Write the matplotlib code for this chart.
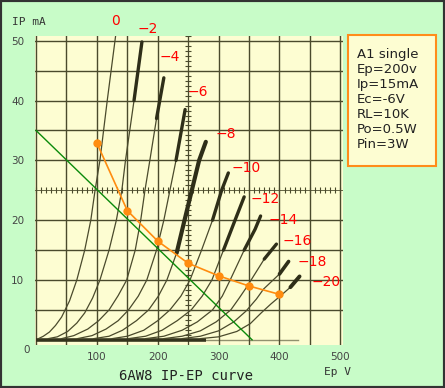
import matplotlib.pyplot as plt
import numpy as np

# plate curves of 6AW8, (Ep V, Ip mA), one list per grid voltage
grid_volts = [0, -2, -4, -6, -8, -10, -12, -14, -16, -18, -20]
curve_ep = [
    [4, 12, 22, 32, 42, 55, 67, 80, 90, 97, 105, 117, 131],
    [20, 35, 52, 67, 80, 93, 105, 120, 132, 141, 147, 161, 174],
    [42, 62, 85, 103, 120, 135, 149, 163, 172, 179, 187, 198, 210],
    [68, 92, 115, 135, 152, 168, 182, 198, 210, 220, 230, 245],
    [95, 120, 142, 165, 185, 201, 215, 231, 244, 256, 268, 279],
    [125, 150, 177, 200, 220, 238, 253, 272, 290, 305, 316],
    [152, 180, 207, 232, 255, 273, 289, 308, 327, 342],
    [180, 210, 240, 265, 290, 306, 319, 342, 360, 369],
    [210, 240, 270, 296, 320, 334, 346, 375, 395],
    [240, 270, 300, 325, 345, 362, 374, 400, 415],
    [270, 300, 330, 352, 370, 386, 400, 418, 433],
]
curve_ip = [
    [0.2, 0.6, 1.3, 2.4, 3.8, 6.5, 10, 15, 20, 25, 30, 40, 51],
    [0.2, 0.5, 1.4, 2.8, 4.5, 7, 10, 15, 20, 25, 30, 40, 49.8],
    [0.2, 0.7, 1.8, 3.2, 5, 7.4, 10, 15, 20, 25, 30, 37, 43.8],
    [0.2, 0.7, 1.8, 3.2, 5, 7.3, 10, 15, 20, 25, 30, 38.5],
    [0.2, 0.6, 1.6, 3.2, 5, 7.3, 10, 14.5, 20, 25, 30, 33.1],
    [0.2, 0.6, 1.6, 3.2, 5, 7.3, 10, 15, 20, 25, 27.9],
    [0.2, 0.6, 1.6, 3.2, 5, 7.3, 10, 15, 20, 23.9],
    [0.2, 0.6, 1.6, 3.0, 5, 7.3, 10, 15, 18.5, 20.7],
    [0.2, 0.6, 1.5, 3.0, 5, 7.0, 8.8, 13.5, 16],
    [0.2, 0.6, 1.5, 3.0, 4.8, 6.8, 8.5, 11, 13.1],
    [0.2, 0.5, 1.4, 2.7, 4.5, 6.0, 7.2, 8.8, 10.6],
]
# current above which the scan shows a heavy stroke, and its width
thick_from = [99, 40, 36, 30, 14, 20, 15, 15, 13, 11, 8.8]
thick_lw = [1, 2.4, 2.4, 2.4, 3.0, 2.4, 2.4, 2.4, 2.4, 2.6, 2.8]

label_x = [131, 183, 220, 266, 311, 345, 377, 406, 429, 454, 477]
label_y = [53.3, 52.0, 47.3, 41.5, 34.4, 28.7, 23.5, 20.0, 16.5, 13.0, 9.7]

# operating points and load line
op_ep = [100, 150, 200, 250, 300, 350, 400]
op_ip = [32.9, 21.6, 16.5, 12.8, 10.7, 9.0, 7.6]
load_ep = [0, 355]
load_ip = [35, 0]

info = "A1 single\nEp=200v\nIp=15mA\nEc=-6V\nRL=10K\nPo=0.5W\nPin=3W"

bg = "#c8fcc8"
paper = "#fdfdd2"
ink = "#4a4a2c"

fig = plt.figure(figsize=(4.45, 3.88), dpi=100, facecolor=bg)
ax = fig.add_axes([0.0796, 0.1103, 0.692, 0.797])
ax.set_facecolor(paper)
ax.set_xlim(-1, 505)
ax.set_ylim(-0.9, 50.8)
for s in ax.spines.values():
    s.set_visible(False)

# graph paper grid
for v in range(0, 501, 50):
    if v != 250:
        ax.axvline(v, color=ink, lw=1.0, zorder=1)
for i in range(5, 51, 5):
    if i != 25:
        ax.axhline(i, color=ink, lw=1.0, zorder=1)
ax.axvline(250, color=ink, lw=0.9, zorder=1)
ax.axhline(25, color=ink, lw=0.6, zorder=1)
tx = np.arange(0, 505, 50 / 6)
ax.plot(tx, np.full_like(tx, 25), ls="none", marker="|", ms=5, mew=0.8, color=ink, zorder=1)
ty = np.arange(0, 51, 5 / 6)
ax.plot(np.full_like(ty, 250), ty, ls="none", marker="_", ms=5, mew=0.8, color=ink, zorder=1)

# zero current baseline
ax.plot([0, 280], [0, 0], color="#33331c", lw=2.6, solid_capstyle="butt", zorder=2)
ax.plot([280, 430], [0, 0], color=ink, lw=1.0, alpha=0.6, zorder=2)

for k in range(len(grid_volts)):
    ep = np.array(curve_ep[k])
    ip = np.array(curve_ip[k])
    ax.plot(ep, ip, color=ink, lw=0.9, zorder=3)
    m = ip >= thick_from[k]
    if m.sum() > 1:
        ax.plot(ep[m], ip[m], color="#2e2e18", lw=thick_lw[k], solid_capstyle="round", zorder=3)
    ax.text(label_x[k], label_y[k], str(grid_volts[k]).replace("-", "\u2212"), color="red",
            fontsize=10, ha="center", va="center", clip_on=False)

ax.plot(load_ep, load_ip, color="#0a8a0a", lw=1.0, zorder=4)
ax.plot(op_ep, op_ip, color="#ff8c10", lw=1.2, marker="o", ms=5, zorder=5)

ax.set_xticks([100, 200, 300, 400, 500])
ax.set_yticks([10, 20, 30, 40, 50])
ax.tick_params(length=0, labelsize=7.5, labelcolor="#444444")
ax.tick_params(axis="x", pad=5)
ax.tick_params(axis="y", pad=8)
fig.text(30 / 445, 1 - 350 / 388, "0", fontsize=7.5, color="#444444", ha="right", va="center")

mono = "DejaVu Sans Mono"
fig.text(29 / 445, 1 - 22 / 388, "IP mA", fontsize=8, family=mono, color="#333333", ha="center", va="center")
fig.text(338 / 445, 1 - 372 / 388, "Ep V", fontsize=8, family=mono, color="#333333", ha="center", va="center")
fig.text(186 / 445, 1 - 376 / 388, "6AW8 IP-EP curve", fontsize=10, family=mono, color="#222222",
         ha="center", va="center")

# info box
box = plt.Rectangle((348 / 445, 1 - 166 / 388), 88 / 445, 131 / 388, transform=fig.transFigure,
                    facecolor=paper, edgecolor="#ff8c1a", lw=1.5)
fig.add_artist(box)
fig.text(357 / 445, 1 - 48 / 388, info, fontsize=9.5, color="#222222", ha="left", va="top", linespacing=1.2)

# outer frame
frame = plt.Rectangle((0, 0), 1, 1, transform=fig.transFigure, facecolor="none", edgecolor="#333333", lw=3)
fig.add_artist(frame)

fig.savefig("out.png", dpi=100, facecolor=bg)
